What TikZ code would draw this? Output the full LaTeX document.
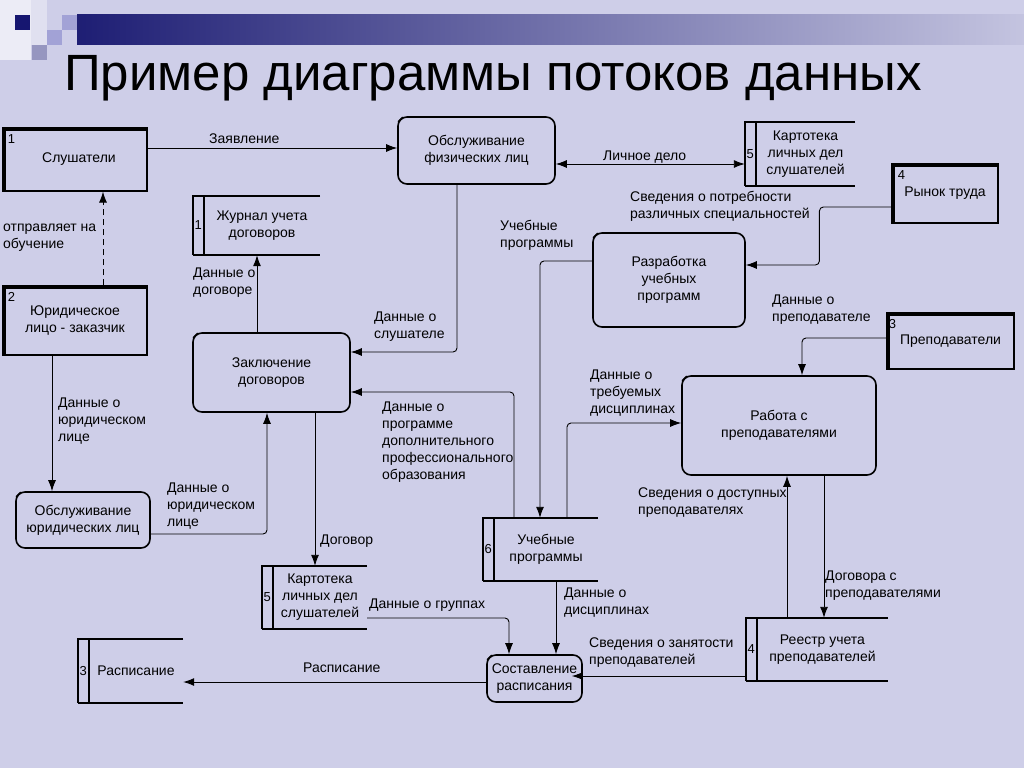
\documentclass[tikz,border=0pt]{standalone}
\usepackage{fontspec}
\setmainfont{Liberation Sans}
\usetikzlibrary{arrows.meta}
\definecolor{slidebg}{RGB}{206,206,232}
\definecolor{stripwhite}{RGB}{236,236,246}
\definecolor{stripgray}{RGB}{224,224,240}
\definecolor{sqnavy}{RGB}{22,22,112}
\definecolor{sqlight}{RGB}{162,162,214}
\definecolor{sqgray}{RGB}{150,150,192}
\definecolor{barnavy}{RGB}{30,30,116}
\definecolor{barfade}{RGB}{196,196,224}
\newcommand{\dfdfont}{\fontsize{14}{17}\selectfont}
\tikzset{
  process/.style={draw, line width=1.6pt, rounded corners=9pt, align=center, font=\dfdfont, inner sep=0pt},
  entity/.style={draw, line width=1.2pt, align=center, font=\dfdfont, inner sep=0pt},
  store/.style={align=center, font=\dfdfont, inner sep=0pt},
  num/.style={inner sep=0pt, font=\fontsize{13}{15}\selectfont},
  flow/.style={-{Latex[length=11pt, width=8pt]}, line width=0.9pt, rounded corners=4pt},
  lbl/.style={anchor=north west, inner sep=0pt, align=left, font=\dfdfont, execute at begin node=\strut},
}

\begin{document}
\begin{tikzpicture}
\useasboundingbox (0,0) rectangle (1024pt, -768pt);
\fill [slidebg] (0,0) rectangle (1024pt, -768pt);
\fill [stripwhite] (0,0) rectangle (31pt, -60pt);
\fill [stripgray] (31pt, 0) rectangle (47pt, -45pt);
\fill [sqnavy] (15pt, -15pt) rectangle (30pt, -30pt);
\fill [sqlight] (62pt, -15pt) rectangle (77pt, -30pt);
\fill [sqlight] (47pt, -30pt) rectangle (62pt, -45pt);
\fill [sqgray] (32pt, -45pt) rectangle (47pt, -60pt);
\shade [left color=barnavy, right color=barfade] (77pt, -15pt) rectangle (1024pt, -45pt);
\node [anchor=base west, inner sep=0pt, font=\fontsize{51}{57}\selectfont] (title) at (64pt, -90pt) {Пример диаграммы потоков данных};

\node [entity, minimum width=144pt, minimum height=63pt] (ent1) at (75pt, -159.5pt) {\hspace{8pt}Слушатели};
\node [entity, minimum width=144pt, minimum height=69pt] (ent2) at (75pt, -320.5pt) {Юридическое\\лицо - заказчик};
\node [entity, minimum width=106pt, minimum height=59pt] (ent4) at (945pt, -193.5pt) {Рынок труда};
\node [entity, minimum width=127pt, minimum height=56pt] (ent3) at (950.5pt, -341pt) {Преподаватели};
\foreach \e/\n/\dx in {ent1/1/9, ent2/2/9, ent4/4/10, ent3/3/6} {
  \draw [line width=4pt] ([xshift=2pt]\e.south west) -- ([shift={(2pt,-2pt)}]\e.north west) -- ([yshift=-2pt]\e.north east);
  \node [num] (\e-num) at ([shift={(\dx pt,-12pt)}]\e.north west) {\n};
}

\node [process, minimum width=157pt, minimum height=67pt] (obsfiz) at (476.5pt, -150.5pt) {Обслуживание\\физических лиц};
\node [process, minimum width=152pt, minimum height=94pt] (razr) at (669pt, -280pt) {Разработка\\учебных\\программ};
\node [process, minimum width=157pt, minimum height=79pt] (zakl) at (271.5pt, -372.5pt) {Заключение\\договоров};
\node [process, minimum width=194pt, minimum height=99pt] (rabota) at (779pt, -425.5pt) {Работа с\\преподавателями};
\node [process, minimum width=134pt, minimum height=56pt] (obsur) at (83pt, -520pt) {Обслуживание\\юридических лиц};
\node [process, minimum width=95pt, minimum height=47pt] (sost) at (534.5pt, -678.5pt) {Составление\\расписания};
\foreach \p in {obsfiz, razr, zakl, rabota, obsur, sost}
  \draw [line width=1.3pt] ([shift={(0.8pt,-5.5pt)}]\p.north west) -- ([shift={(5.5pt,-0.8pt)}]\p.north west);

\node [store, minimum width=116pt, minimum height=59pt] (st1) at (262pt, -225.5pt) {Журнал учета\\договоров};
\node [store, minimum width=99pt, minimum height=64pt] (st5a) at (805.5pt, -154pt) {Картотека\\личных дел\\слушателей};
\node [store, minimum width=104pt, minimum height=63pt] (st6) at (546pt, -549.5pt) {Учебные\\программы};
\node [store, minimum width=94pt, minimum height=63pt] (st5b) at (320pt, -597.5pt) {Картотека\\личных дел\\слушателей};
\node [store, minimum width=94pt, minimum height=64pt] (st3) at (136pt, -671pt) {Расписание};
\node [store, minimum width=131pt, minimum height=63pt] (st4) at (822.5pt, -649.5pt) {Реестр учета\\преподавателей};
\foreach \s/\n in {st1/1, st5a/5, st6/6, st5b/5, st3/3, st4/4} {
  \draw [line width=1.5pt] (\s.north east) -- ([xshift=-11pt]\s.north west) -- ([xshift=-11pt]\s.south west);
  \draw [line width=2pt] ([xshift=-11pt]\s.south west) -- (\s.south east);
  \draw [line width=1.6pt] (\s.north west) -- (\s.south west);
  \node [num] (\s-num) at ([xshift=-5.5pt]\s.west) {\n};
}

\draw [flow] ([yshift=11.5pt]ent1.east) -- ([yshift=2.5pt]obsfiz.west);
\draw [flow, dash pattern=on 6pt off 4pt] ([xshift=28pt]ent2.north) -- ([xshift=28pt]ent1.south);
\draw [flow] ([xshift=-23pt]ent2.south) -- ([xshift=-23pt]ent2.south |- obsur.north);
\draw [flow] ([yshift=-14pt]obsur.east) -| ([xshift=-4.5pt]zakl.south);
\draw [flow] ([xshift=-14.5pt]zakl.north) -- ([xshift=-14.5pt]zakl.north |- st1.south);
\draw [flow] ([xshift=-19.5pt]obsfiz.south) |- ([yshift=20.5pt]zakl.east);
\draw [flow] ([xshift=-32pt]st6.north) |- ([yshift=-19.5pt]zakl.east);
\draw [flow] ([yshift=19pt]razr.west) -| ([xshift=-6pt]st6.north);
\draw [flow] ([xshift=21pt]st6.north) |- ([yshift=2.5pt]rabota.west);
\draw [flow, {Latex[length=11pt, width=8pt]}-{Latex[length=11pt, width=8pt]}] ([yshift=-13.5pt]obsfiz.east) -- ([shift={(-11pt,-10pt)}]st5a.west);
\draw [flow] ([yshift=-13.5pt]ent4.west) -- ++(-72pt, 0) |- ([yshift=15pt]razr.east);
\draw [flow] ([yshift=3pt]ent3.west) -| ([xshift=23pt]rabota.north);
\draw [flow] ([xshift=45pt]rabota.south) -- ([xshift=45pt]rabota.south |- st4.north);
\draw [flow] ([xshift=8pt]rabota.south |- st4.north) -- ([xshift=8pt]rabota.south);
\draw [flow] ([xshift=43.5pt]zakl.south) -- ([xshift=43.5pt]zakl.south |- st5b.north);
\draw [flow] ([yshift=-20.5pt]st5b.east) -| ([xshift=-25.5pt]sost.north);
\draw [flow] ([xshift=10pt]st6.south) -- ([xshift=10pt]st6.south |- sost.north);
\draw [flow] ([shift={(-11pt,-26.5pt)}]st4.west) -- ([shift={(-11pt,-26.5pt)}]st4.west -| sost.east);
\draw [flow] ([yshift=-3.5pt]sost.west) -- ([yshift=-3.5pt]sost.west -| st3.east);

\node [lbl] (l-zayav) at (209pt, -131pt) {Заявление};
\node [lbl] (l-otpr) at (3pt, -224pt) {отправляет на\\обучение};
\node [lbl] (l-dogovore) at (193pt, -268pt) {Данные о\\договоре};
\node [lbl] (l-slush) at (374pt, -312pt) {Данные о\\слушателе};
\node [lbl] (l-yur1) at (58pt, -398pt) {Данные о\\юридическом\\лице};
\node [lbl] (l-yur2) at (167pt, -483pt) {Данные о\\юридическом\\лице};
\node [lbl] (l-dogovor) at (320pt, -532pt) {Договор};
\node [lbl] (l-dpo) at (382pt, -402pt) {Данные о\\программе\\дополнительного\\профессионального\\образования};
\node [lbl] (l-uchprog) at (500pt, -220pt) {Учебные\\программы};
\node [lbl] (l-lichn) at (603pt, -148pt) {Личное дело};
\node [lbl] (l-potreb) at (630pt, -191pt) {Сведения о потребности\\различных специальностей};
\node [lbl] (l-prepod) at (772pt, -295pt) {Данные о\\преподавателе};
\node [lbl] (l-treb) at (590pt, -370pt) {Данные о\\требуемых\\дисциплинах};
\node [lbl] (l-dostup) at (638pt, -488pt) {Сведения о доступных\\преподавателях};
\node [lbl] (l-dogprep) at (825pt, -571pt) {Договора с\\преподавателями};
\node [lbl] (l-grupp) at (369pt, -596pt) {Данные о группах};
\node [lbl] (l-disc) at (564pt, -588pt) {Данные о\\дисциплинах};
\node [lbl] (l-zanyat) at (589pt, -638pt) {Сведения о занятости\\преподавателей};
\node [lbl] (l-rasp) at (303pt, -660pt) {Расписание};
\end{tikzpicture}
\end{document}
